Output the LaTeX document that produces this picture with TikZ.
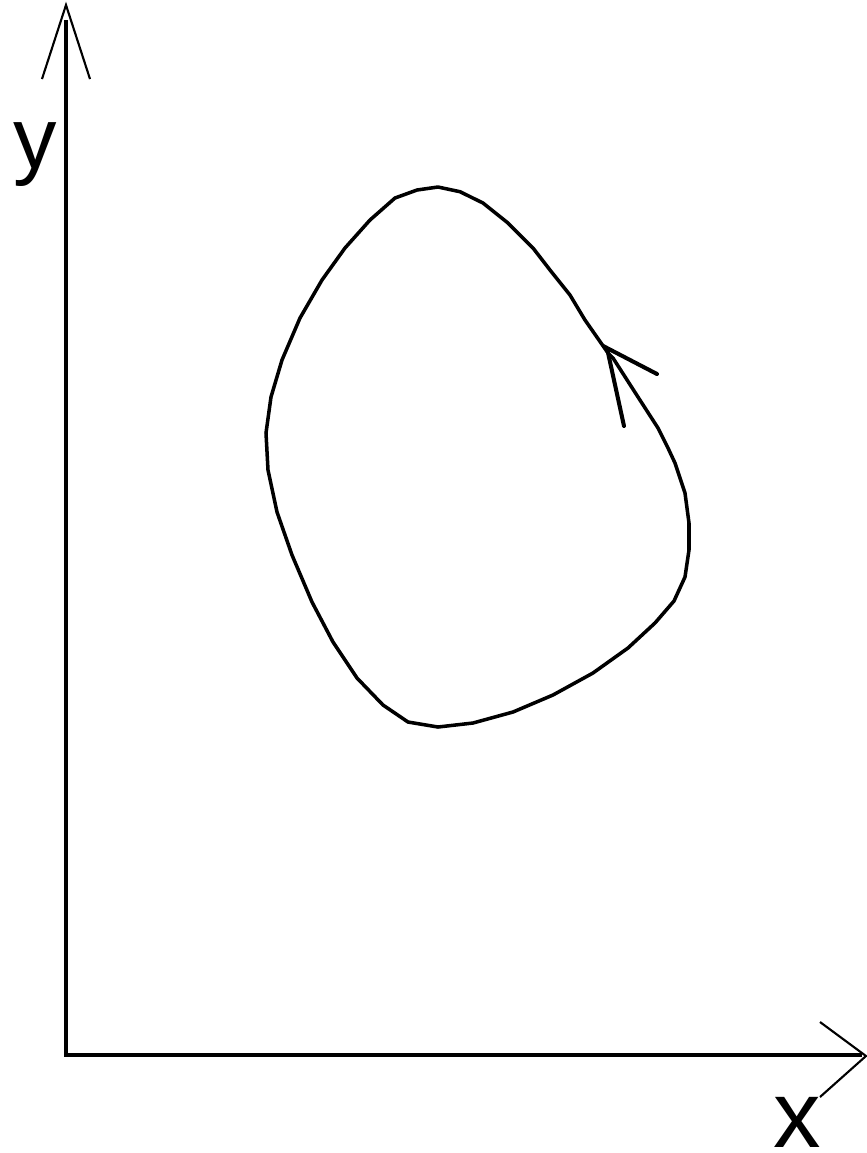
\documentclass[tikz,border=0pt]{standalone}
\usepackage{fontspec}
\setmainfont{Liberation Sans}
\begin{document}
\begin{tikzpicture}[x=0.01cm,y=-0.01cm,
  axis/.style={line width=0.9pt},
  headline/.style={line width=0.6pt},
  loopline/.style={line width=1.0pt, line join=round},
  looptip/.style={line width=1.15pt, line cap=round},
  lbl/.style={inner sep=0pt, anchor=base}]
\useasboundingbox (0,0) rectangle (867,1153);
% axes
\coordinate (O) at (66,1055);
\coordinate (Ytop) at (66,20);
\coordinate (Ytip) at (66,5);
\coordinate (Yl) at (42,79);
\coordinate (Yr) at (90,79);
\coordinate (Xend) at (862,1055);
\coordinate (Xtip) at (866,1056);
\coordinate (Xu) at (820,1022);
\coordinate (Xd) at (820,1097);
\draw[axis] (Ytop) -- (O) -- (Xend);
\draw[headline] (Yl) -- (Ytip) -- (Yr);
\draw[headline] (Xu) -- (Xtip) -- (Xd);
\node[lbl, font=\fontsize{24.7}{30}\selectfont] (ylab) at (35.5,168) {y};
\node[lbl, font=\fontsize{27}{32}\selectfont] (xlab) at (797,1147) {x};
% closed loop
\draw[loopline] (438,187) -- (460,191.7) -- (483,203) -- (508,223) -- (533,248) -- (550,270)
  -- (570,295) -- (585,320) -- (608,353) -- (613,358) -- (638,397) -- (658,428) -- (668,448)
  -- (675,463) -- (685,493) -- (689,523) -- (689,550) -- (685,577) -- (674,601) -- (655,623)
  -- (628,648) -- (593,673) -- (553,695) -- (513,712) -- (473,723) -- (438,727) -- (408,722)
  -- (383,705) -- (357,678) -- (333,642) -- (312,602) -- (292,555) -- (277,512) -- (268,470)
  -- (266,433) -- (271,397) -- (282,360) -- (300,318) -- (322,280) -- (345,248) -- (370,220)
  -- (395,198) -- (417,190) -- cycle;
\coordinate (Atip) at (607,348);
\coordinate (Aa) at (657,374);
\coordinate (Ab) at (624,426);
\draw[looptip] (Aa) -- (Atip) -- (Ab);
\end{tikzpicture}
\end{document}
